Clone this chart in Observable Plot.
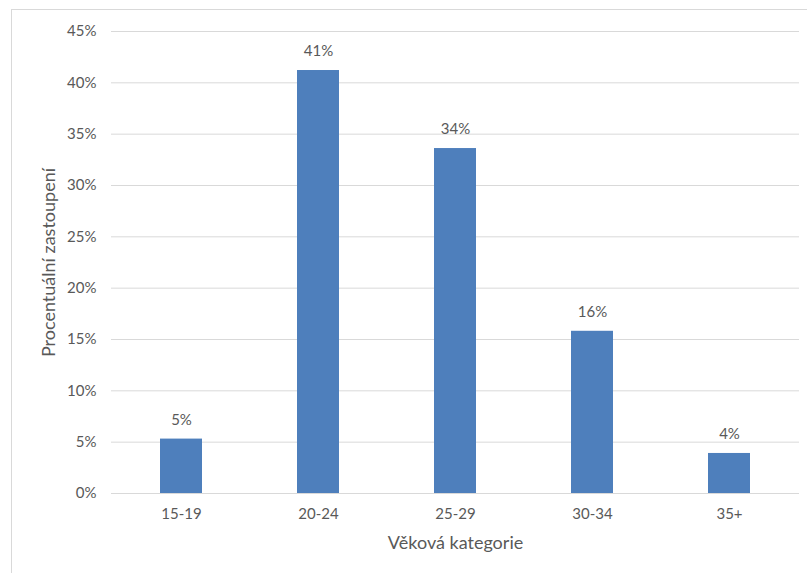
<!DOCTYPE html>
<html>
<head>
<meta charset="utf-8">
<script src="https://cdn.jsdelivr.net/npm/d3@7"></script>
<script src="https://cdn.jsdelivr.net/npm/@observablehq/plot@0.6"></script>
<style>
  html, body { margin: 0; padding: 0; background: #fff; }
  #wrap { position: relative; width: 807px; height: 573px; overflow: hidden; }
  #frame { position: absolute; left: 11px; top: 9px; width: 900px; height: 700px;
           border-top: 1px solid #d9d9d9; border-left: 1px solid #d9d9d9; pointer-events: none; }
  #chart { position: absolute; left: 0; top: 0; }
</style>
</head>
<body>
<div id="wrap"><div id="frame"></div><div id="chart"></div></div>
<script>
const categories = ["15-19", "20-24", "25-29", "30-34", "35+"];
const shares = [0.053, 0.412, 0.336, 0.158, 0.039];
const yTicks = [0, 0.05, 0.10, 0.15, 0.20, 0.25, 0.30, 0.35, 0.40, 0.45];
const xTitle = "Věková kategorie";
const yTitle = "Procentuální zastoupení";

const data = categories.map((c, i) => ({ category: c, share: shares[i] }));
const pct = d3.format(".0%");
const textColor = "#595959";
const font = "Lato, 'Open Sans', sans-serif";

const chart = Plot.plot({
  width: 807,
  height: 573,
  marginLeft: 111,
  marginRight: 8,
  marginTop: 31,
  marginBottom: 80,
  style: { fontFamily: font, fontSize: "15px", color: textColor, background: "transparent" },
  x: { domain: categories, paddingInner: 0.69, paddingOuter: 0.345, label: null },
  y: { domain: [0, 0.45], label: null },
  marks: [
    Plot.ruleY(yTicks, { stroke: "#d9d9d9", strokeWidth: 1 }),
    Plot.barY(data, { x: "category", y: "share", fill: "#4e7fbc" }),
    Plot.text(data, { x: "category", y: "share", text: d => pct(d.share), dy: -19, fill: textColor, fontSize: 15 }),
    Plot.axisY({ ticks: yTicks, tickFormat: pct, tickSize: 0, tickPadding: 15, label: null, fill: textColor, fontSize: 15 }),
    Plot.axisX({ tickSize: 0, tickPadding: 15, label: null, fill: textColor, fontSize: 15 }),
    Plot.text([xTitle], { frameAnchor: "bottom", dy: 55, fill: textColor, fontSize: 18 }),
    Plot.text([yTitle], { frameAnchor: "left", textAnchor: "middle", dx: -62, rotate: -90, fill: textColor, fontSize: 18 })
  ]
});
document.getElementById("chart").appendChild(chart);
</script>
</body>
</html>
